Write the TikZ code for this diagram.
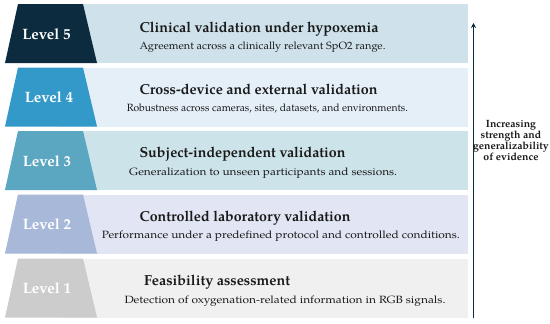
\documentclass[tikz,border=0pt]{standalone}
\usepackage{fontspec}
\usepackage{graphicx}
\setmainfont{texgyrepagella}[Extension=.otf,UprightFont=*-regular,BoldFont=*-bold,ItalicFont=*-italic,BoldItalicFont=*-bolditalic]
\usetikzlibrary{arrows.meta}
\definecolor{tA}{HTML}{0D2B3E}\definecolor{bA}{HTML}{CFE2EB}
\definecolor{tB}{HTML}{3399C9}\definecolor{bB}{HTML}{E4EFF8}
\definecolor{tC}{HTML}{5BA6C0}\definecolor{bC}{HTML}{CDE3EA}
\definecolor{tD}{HTML}{A8B8D8}\definecolor{bD}{HTML}{E2E5F3}
\definecolor{tE}{HTML}{CCCCCC}\definecolor{bE}{HTML}{F0F0F0}
\definecolor{txt}{HTML}{1A1A1A}
\definecolor{arr}{HTML}{0D2B3E}
\tikzset{
  ttl/.style={anchor=base west,inner sep=0pt,font=\bfseries\fontsize{14.5}{17}\selectfont,text=txt},
  sub/.style={anchor=base west,inner sep=0pt,font=\fontsize{10.5}{13}\selectfont,text=txt},
  lvl/.style={inner sep=0pt,font=\bfseries\fontsize{15}{16}\selectfont,text=white},
}
\newcommand{\rowband}[3]{% top, trapcolor, bandcolor
  \fill[#3] (60,#1) rectangle (468,#1+59);
  \fill[#2] (18,#1) -- (83,#1) -- (97,#1+59) -- (5,#1+59) -- cycle;
}
\newcommand{\fitw}[2]{\resizebox{#1pt}{\height}{#2}}
\begin{document}
\begin{tikzpicture}[x=1pt,y=-1pt]
\useasboundingbox (0,0) rectangle (550,324);
\fill[white] (0,0) rectangle (550,324);
\rowband{4}{tA}{bA}
\rowband{67.5}{tB}{bB}
\rowband{131}{tC}{bC}
\rowband{194.5}{tD}{bD}
\rowband{258.5}{tE}{bE}
\node[lvl] (l5) at (46.5,34) {Level 5};
\node[lvl] (l4) at (49,97.5) {Level 4};
\node[lvl] (l3) at (47,161) {Level 3};
\node[lvl] (l2) at (47,224.5) {Level 2};
\node[lvl] (l1) at (47,288.5) {Level 1};
\node[ttl] (t5) at (139.3,32) {\fitw{239}{Clinical validation under hypoxemia}};
\node[sub] (s5) at (139.3,49) {\fitw{246}{Agreement across a clinically relevant SpO2 range.}};
\node[ttl] (t4) at (139.3,94) {\fitw{238}{Cross-device and external validation}};
\node[sub] (s4) at (126.7,111.5) {\fitw{281}{Robustness across cameras, sites, datasets, and environments.}};
\node[ttl] (t3) at (139.3,157.5) {\fitw{206}{Subject-independent validation}};
\node[sub] (s3) at (129,175) {\fitw{268}{Generalization to unseen participants and sessions.}};
\node[ttl] (t2) at (139.3,221) {\fitw{211}{Controlled laboratory validation}};
\node[sub] (s2) at (101.7,238.5) {\fitw{358}{Performance under a predefined protocol and controlled conditions.}};
\node[ttl] (t1) at (144,285.5) {\fitw{146}{Feasibility assessment}};
\node[sub] (s1) at (124.3,303) {\fitw{321}{Detection of oxygenation-related information in RGB signals.}};
\coordinate (abot) at (473.5,318);
\coordinate (atop) at (473.5,23);
\draw[arr,line width=1.6pt,-{Stealth[length=5pt,width=5pt]}] (abot) -- (atop);
\node[align=center,inner sep=0pt,text=txt,font=\bfseries\fontsize{10.5}{11.3}\selectfont] (ev) at (511,140.5) {Increasing\\strength and\\generalizability\\of evidence};
\end{tikzpicture}
\end{document}
